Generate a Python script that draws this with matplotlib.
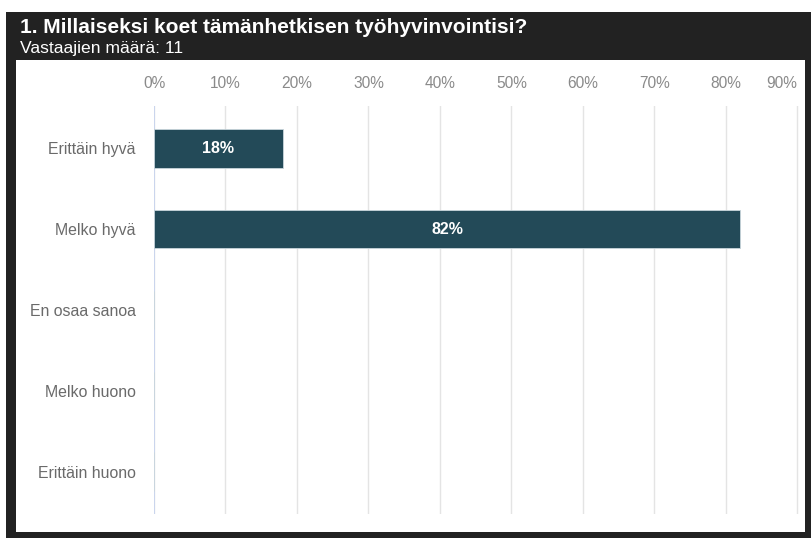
import matplotlib.pyplot as plt
from matplotlib.patches import Rectangle

plt.rcParams['font.family'] = ['Liberation Sans', 'DejaVu Sans']

title = "1. Millaiseksi koet tämänhetkisen työhyvinvointisi?"
subtitle = "Vastaajien määrä: 11"
categories = ["Erittäin hyvä", "Melko hyvä", "En osaa sanoa", "Melko huono", "Erittäin huono"]
percent = [18, 82, 0, 0, 0]
x_ticks = [0, 10, 20, 30, 40, 50, 60, 70, 80, 90]

W, H = 811, 538
fig = plt.figure(figsize=(W / 100, H / 100), dpi=100, facecolor='white')

# dark frame and white chart panel
fig.patches.append(Rectangle((6 / W, 0), 1 - 6 / W, 1 - 12 / H, transform=fig.transFigure,
                             facecolor='#222222', edgecolor='none', zorder=0))
fig.patches.append(Rectangle((16 / W, 6 / H), (805 - 16) / W, (532 - 60) / H, transform=fig.transFigure,
                             facecolor='white', edgecolor='none', zorder=1))

fig.text(20 / W, 1 - 28 / H, title, color='white', fontsize=15, fontweight='bold', va='center')
fig.text(20 / W, 1 - 48 / H, subtitle, color='white', fontsize=12.6, va='center')

ax = fig.add_axes([154 / W, 1 - 514 / H, (805 - 154) / W, (514 - 106) / H])
ax.set_facecolor('none')
ax.set_zorder(2)

y = range(len(categories))
bars = ax.barh(y, percent, height=0.48, color='#234a58', edgecolor='#c9d6dc', linewidth=0.6, zorder=3)
for bar, p in zip(bars, percent):
    if p > 0:
        ax.text(bar.get_width() / 2, bar.get_y() + bar.get_height() / 2, f"{p}%",
                ha='center', va='center', color='white', fontsize=11.5, fontweight='bold', zorder=4)

ax.set_xlim(0, 91.05)
ax.set_ylim(len(categories) - 0.48, -0.52)
ax.set_yticks(list(y))
ax.set_yticklabels(categories, fontsize=11.4, color='#6a6a6a')
ax.set_xticks(x_ticks)
ax.set_xticklabels([f"{t}%" for t in x_ticks], fontsize=11.2, color='#8a8a8a')
ax.xaxis.tick_top()
ax.tick_params(axis='x', length=0, pad=11)
ax.tick_params(axis='y', length=0, pad=13)
ax.get_xticklabels()[-1].set_horizontalalignment('right')

ax.grid(axis='x', color='#e4e4e4', linewidth=1, zorder=0)
for s in ax.spines.values():
    s.set_visible(False)
ax.axvline(0, color='#c5d3f0', linewidth=1.2, zorder=2)

fig.savefig('out.png', dpi=100, facecolor='white')
